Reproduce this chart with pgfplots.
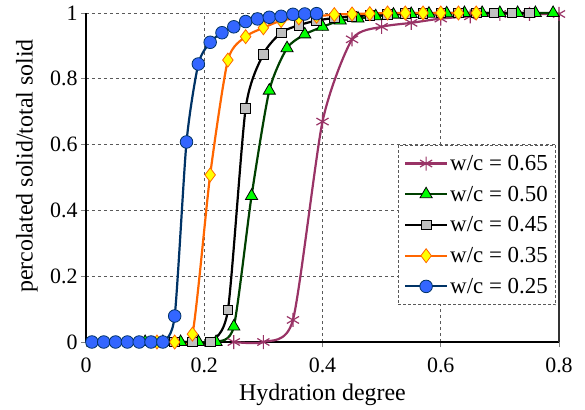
\documentclass[border=0pt]{standalone}
\usepackage{fontspec}
\setmainfont{Liberation Serif}
\usepackage{pgfplots}
\pgfplotsset{compat=1.18}
\usetikzlibrary{calc}
\definecolor{cpurple}{RGB}{153,51,102}
\definecolor{cgreen}{RGB}{0,64,0}
\definecolor{cgreenfill}{RGB}{0,255,0}
\definecolor{cnavy}{RGB}{0,51,102}
\definecolor{cblue}{RGB}{51,102,255}
\definecolor{corange}{RGB}{255,102,0}
\definecolor{cyellow}{RGB}{255,255,0}
\definecolor{cgray}{RGB}{192,192,192}
\begin{document}
\begin{tikzpicture}
\begin{axis}[name=ax,
  scale only axis, width=473bp, height=329bp,
  xmin=0, xmax=0.8, ymin=0, ymax=1,
  xtick={0,0.2,0.4,0.6,0.8}, ytick={0,0.2,0.4,0.6,0.8,1},
  axis x line*=bottom, axis y line*=left,
  axis line style={black, line width=2bp},
  tick align=outside, major tick length=5bp,
  tick style={gray, line width=0.8bp},
  grid=major, major grid style={dashed, gray!70!black, line width=0.8bp},
  tick label style={font=\fontsize{22}{24}\selectfont},
  xticklabel style={yshift=-7bp},
  /pgf/number format/assume math mode=true,
  xlabel={Hydration degree}, ylabel={percolated solid/total solid},
  every axis x label/.style={at={(rel axis cs:0.5,0)}, yshift=-58bp, anchor=base},
  every axis y label/.style={at={(rel axis cs:0,0.535)}, xshift=-59bp, rotate=90, anchor=center},
  label style={font=\fontsize{24}{28}\selectfont},
  clip=false,
  legend style={at={(rel axis cs:0.994,0.112)}, anchor=south east,
    draw=gray!70!black, dash pattern=on 3bp off 2bp, line width=0.8bp,
    font=\fontsize{23}{25}\selectfont, row sep=10bp, inner xsep=6bp, inner ysep=8bp},
  legend cell align=left,
  legend image code/.code={\draw[solid,mark repeat=2,mark phase=2] plot coordinates {(0bp,0bp) (21bp,0bp) (42bp,0bp)};},
]
\addplot[cpurple, line width=2.2bp, smooth, tension=0.4, mark=asterisk, mark size=7bp, mark options={solid, line width=1.2bp}]
 coordinates {(0.25,0) (0.30,0) (0.35,0.067) (0.40,0.67) (0.45,0.92) (0.50,0.958) (0.55,0.97) (0.60,0.983) (0.65,0.99) (0.70,0.997) (0.75,0.997) (0.80,0.997)};
\addlegendentry{w/c = 0.65}
\addplot[cgreen, line width=2.2bp, smooth, tension=0.4, mark=triangle*, mark size=7bp, mark options={solid, fill=cgreenfill, draw=black, line width=0.8bp}]
 coordinates {(0.10,0) (0.13,0) (0.16,0) (0.19,0) (0.22,0) (0.25,0.047) (0.28,0.444) (0.31,0.764) (0.34,0.893) (0.37,0.935) (0.40,0.958) (0.43,0.977) (0.46,0.983) (0.49,0.99) (0.52,0.995) (0.55,0.997) (0.58,0.998) (0.61,0.999) (0.64,1) (0.67,1) (0.70,1) (0.73,1) (0.76,1) (0.79,1)};
\addlegendentry{w/c = 0.50}
\addplot[black, line width=2.2bp, smooth, tension=0.4, mark=square*, mark size=4.8bp, mark options={solid, fill=cgray, draw=black, line width=0.8bp}]
 coordinates {(0.12,0) (0.15,0) (0.18,0) (0.21,0) (0.24,0.097) (0.27,0.71) (0.30,0.875) (0.33,0.94) (0.36,0.963) (0.39,0.977) (0.42,0.985) (0.45,0.99) (0.48,0.993) (0.51,0.996) (0.54,0.998) (0.57,0.999) (0.60,1) (0.63,1) (0.66,1) (0.69,1) (0.72,1) (0.75,1)};
\addlegendentry{w/c = 0.45}
\addplot[corange, line width=2.2bp, smooth, tension=0.4, mark=diamond*, mark size=7bp, mark options={solid, fill=cyellow, draw=corange, line width=0.8bp}]
 coordinates {(0.12,0) (0.15,0) (0.18,0.024) (0.21,0.508) (0.24,0.857) (0.27,0.928) (0.30,0.955) (0.33,0.977) (0.36,0.985) (0.39,0.99) (0.42,0.995) (0.45,0.997) (0.48,0.998) (0.51,1) (0.54,1) (0.57,1) (0.60,1) (0.63,1) (0.66,1)};
\addlegendentry{w/c = 0.35}
\addplot[cnavy, line width=2.2bp, smooth, tension=0.4, mark=*, mark size=6.3bp, mark options={solid, fill=cblue, draw=cnavy, line width=0.8bp}]
 coordinates {(0.01,0) (0.03,0) (0.05,0) (0.07,0) (0.09,0) (0.11,0) (0.13,0) (0.15,0.079) (0.17,0.608) (0.19,0.845) (0.21,0.911) (0.23,0.94) (0.25,0.958) (0.27,0.974) (0.29,0.982) (0.31,0.987) (0.33,0.99) (0.35,0.996) (0.37,0.997) (0.39,0.998)};
\addlegendentry{w/c = 0.25}
\draw[gray!40!black, line width=1.2bp] (rel axis cs:1,0) -- (rel axis cs:1,1);
\end{axis}
\pgfresetboundingbox
\path ($(ax.south west)+(-86bp,-67bp)$) rectangle ($(ax.north east)+(26bp,13bp)$);
\end{tikzpicture}
\end{document}
